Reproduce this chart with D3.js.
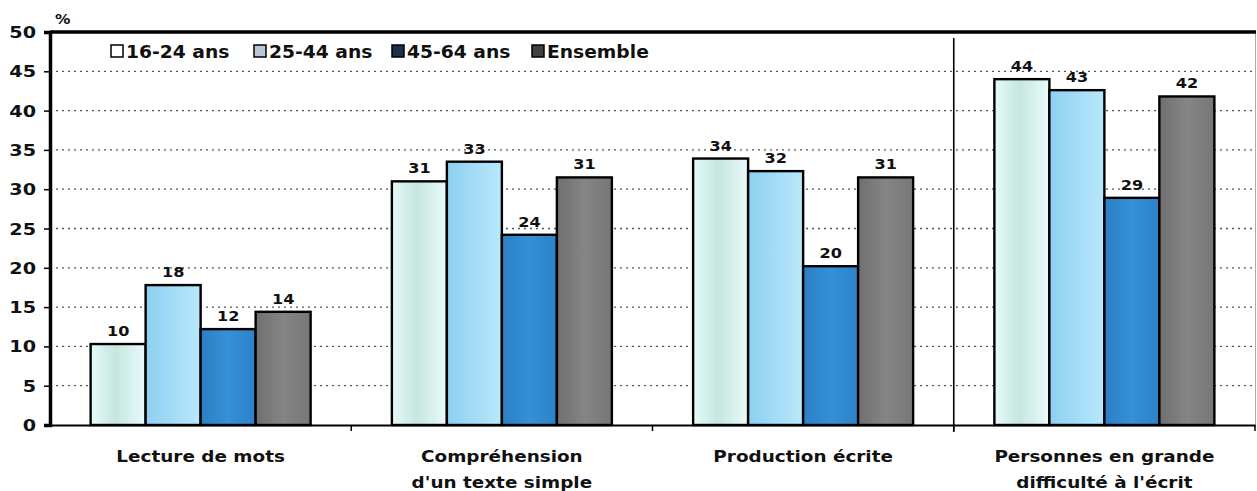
<!DOCTYPE html>
<html><head><meta charset="utf-8">
<script src="https://cdn.jsdelivr.net/npm/d3@7"></script>
<style>body{margin:0;background:#fff}svg{display:block}text{font-family:"DejaVu Sans",Arial,sans-serif;font-weight:bold;fill:#111}</style>
</head><body><svg id="c" width="1257" height="491"></svg>
<script>
const categories = [["Lecture de mots"],["Compréhension","d'un texte simple"],["Production écrite"],["Personnes en grande","difficulté à l'écrit"]];
const seriesNames = ["16-24 ans","25-44 ans","45-64 ans","Ensemble"];
const v1624 = [10.3, 31.0, 33.9, 44.0];
const v2544 = [17.8, 33.5, 32.3, 42.6];
const v4564 = [12.2, 24.2, 20.2, 28.9];
const vEns = [14.4, 31.5, 31.5, 41.8];
const labels1624 = ["10","31","34","44"];
const labels2544 = ["18","33","32","43"];
const labels4564 = ["12","24","20","29"];
const labelsEns = ["14","31","31","42"];
const yTicks = [0,5,10,15,20,25,30,35,40,45,50];

const series = [v1624, v2544, v4564, vEns];
const seriesLabels = [labels1624, labels2544, labels4564, labelsEns];

const svg = d3.select("#c");
const L = 50, R = 1255, T = 32, B = 425;
const defs = svg.append("defs");
function grad(id, stops){
  const g = defs.append("linearGradient").attr("id", id).attr("x1","0").attr("x2","1").attr("y1","0").attr("y2","0");
  stops.forEach(([o,c])=>g.append("stop").attr("offset",o).attr("stop-color",c));
}
grad("g0", [[0,"#e6fafa"],[0.45,"#c6e6df"],[1,"#e9fbfb"]]);
grad("g1", [[0,"#8dd0f0"],[0.6,"#a8def7"],[1,"#b9e8fb"]]);
grad("g2", [[0,"#2c7fc4"],[0.5,"#3590d6"],[1,"#2d82c8"]]);
grad("g3", [[0,"#6f6f6f"],[0.5,"#858585"],[1,"#777777"]]);
const fills = ["url(#g0)","url(#g1)","url(#g2)","url(#g3)"];
const legendFills = ["#ffffff","#b8c8d8","#1c2f4a","#404040"];

const catKeys = categories.map(c=>c.join(" "));
const x = d3.scaleBand().domain(catKeys).range([L,R]);
const y = d3.scaleLinear().domain([0,50]).range([B,T]);
const xi = d3.scaleBand().domain(d3.range(4)).range([0,220]);
const off = (x.bandwidth()-220)/2;

// wide text helper (reference font is horizontally stretched)
function wtext(g, tx, ty, size, anchor, str, sx){
  return g.append("text").attr("transform",`translate(${tx},${ty}) scale(${sx},1)`)
    .attr("text-anchor",anchor).attr("font-size",size).text(str);
}

// gridlines
svg.append("g").selectAll("line").data(yTicks.filter(t=>t>0&&t<50)).join("line")
  .attr("x1",L).attr("x2",R).attr("y1",d=>y(d)).attr("y2",d=>y(d))
  .attr("stroke","#555").attr("stroke-width",1.3).attr("stroke-dasharray","2,4");

// right border
svg.append("line").attr("x1",R+0.5).attr("x2",R+0.5).attr("y1",T).attr("y2",B).attr("stroke","#aaa").attr("stroke-width",1);

// separator
svg.append("line").attr("x1",x(catKeys[3])).attr("x2",x(catKeys[3])).attr("y1",38).attr("y2",B+7).attr("stroke","#000").attr("stroke-width",1.6);

// bars
catKeys.forEach((k,ci)=>{
  series.forEach((s,si)=>{
    const bx = x(k)+off+xi(si);
    svg.append("rect").attr("x",bx).attr("y",y(s[ci])).attr("width",xi.bandwidth()).attr("height",y(0)-y(s[ci]))
      .attr("fill",fills[si]).attr("stroke","#000").attr("stroke-width",2.4);
    wtext(svg, bx+xi.bandwidth()/2, y(s[ci])-8, 14, "middle", seriesLabels[si][ci], 1.15);
  });
});

// top border
svg.append("line").attr("x1",L).attr("x2",R+1).attr("y1",T).attr("y2",T).attr("stroke","#000").attr("stroke-width",3.5);

// y axis
const ya = svg.append("g").attr("transform",`translate(${L},0)`).call(d3.axisLeft(y).tickValues(yTicks).tickSize(6).tickPadding(9));
ya.select(".domain").attr("stroke","#000").attr("stroke-width",3.5);
ya.selectAll(".tick line").attr("stroke","#000").attr("stroke-width",1.5);
ya.selectAll(".tick text").remove();
yTicks.forEach(t=>wtext(svg, 36, y(t)+6, 16, "end", String(t), 1.2));

// x axis
const xa = svg.append("g").attr("transform",`translate(0,${B})`).call(d3.axisBottom(x).tickValues([]).tickSizeOuter(0));
xa.select(".domain").attr("stroke","#000").attr("stroke-width",2);
const bounds = catKeys.slice(1).map(k=>x(k)).concat([R]);
svg.append("g").selectAll("line").data(bounds).join("line")
  .attr("x1",d=>d).attr("x2",d=>d).attr("y1",B).attr("y2",B+6).attr("stroke","#000").attr("stroke-width",1.5);

// category labels
categories.forEach((lines,ci)=>{
  const cx = x(catKeys[ci])+x.bandwidth()/2;
  lines.forEach((t,li)=>{
    wtext(svg, cx, 462+li*26, 16, "middle", t, 1.15);
  });
});

// % label
wtext(svg, 55, 24, 14, "start", "%", 1.1);

// legend
const legX = [111,254,392,532];
seriesNames.forEach((n,i)=>{
  svg.append("rect").attr("x",legX[i]).attr("y",45).attr("width",12).attr("height",12)
    .attr("fill",legendFills[i]).attr("stroke","#000").attr("stroke-width",1.5);
  wtext(svg, legX[i]+15, 58, 17, "start", n, 1.1);
});
</script></body></html>
